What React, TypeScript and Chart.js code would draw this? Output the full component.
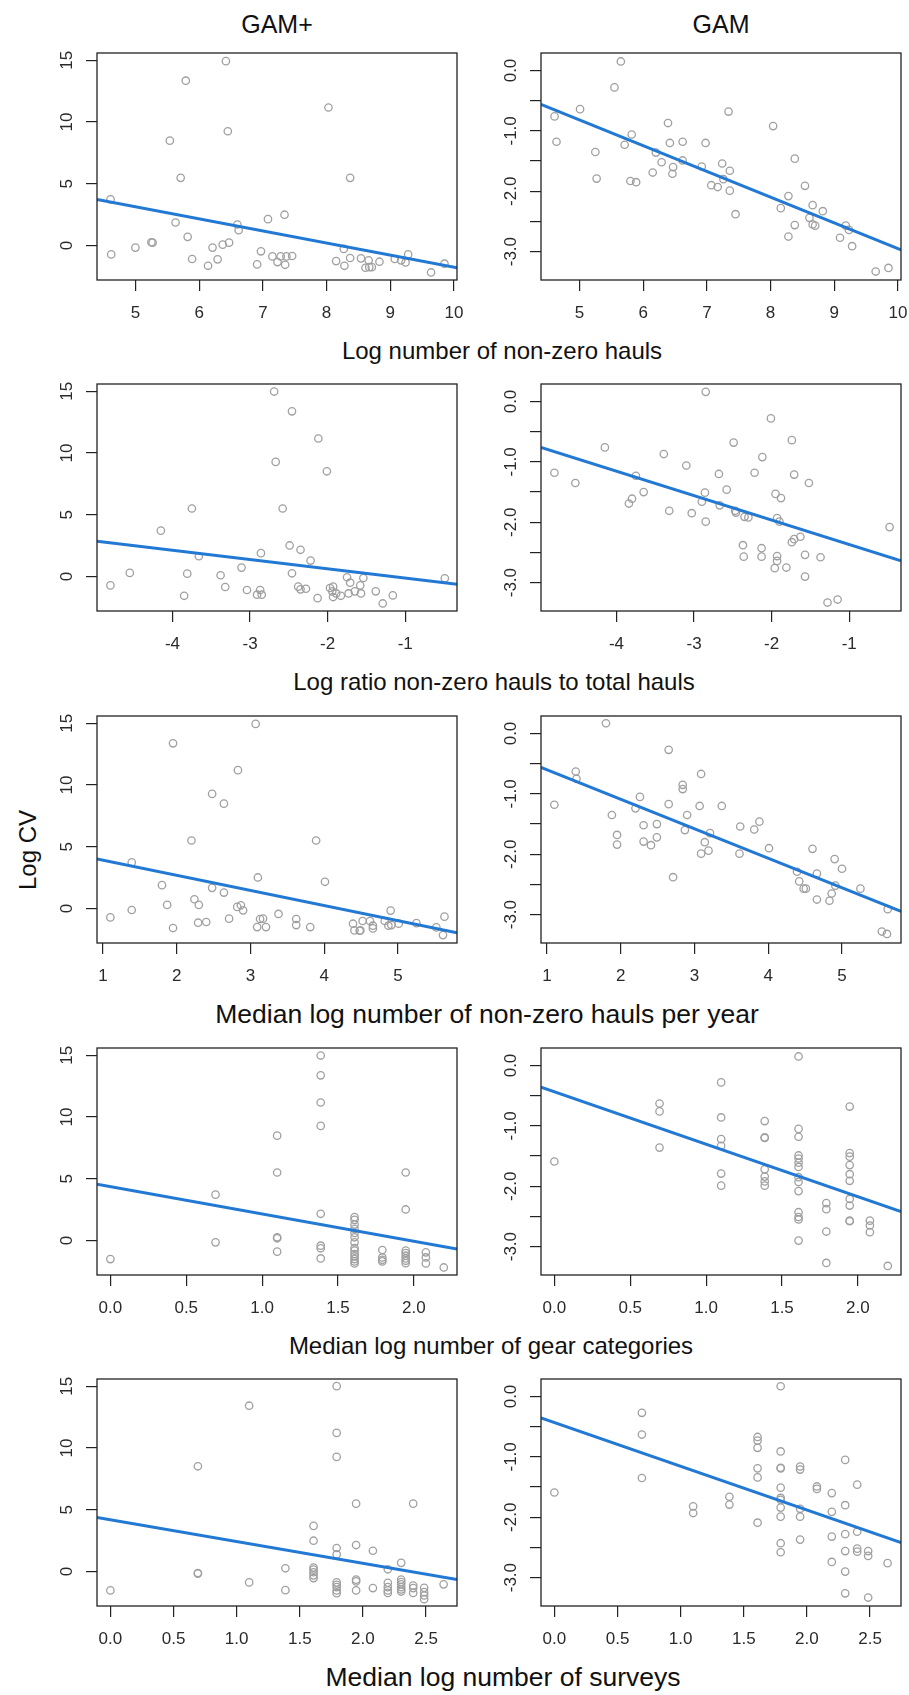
import React, { useEffect, useRef } from "react";
import { Chart, registerables } from "chart.js";

Chart.register(...registerables);

const FONT = '"Liberation Sans", Arimo, Arial, Helvetica, sans-serif';
const BLUE = "rgb(34,121,212)";
const GRAY = "#a0a0a0";

// ---------- Row 1: Log number of non-zero hauls ----------
const haulsPlusX = [4.61, 4.62, 5.0, 5.25, 5.27, 5.54, 5.63, 5.71, 5.79, 5.82, 5.89, 6.14, 6.21, 6.29, 6.37, 6.42, 6.45, 6.47, 6.6, 6.62, 6.91, 6.97, 7.08, 7.15, 7.23, 7.28, 7.34, 7.35, 7.37, 7.46, 8.03, 8.15, 8.27, 8.28, 8.37, 8.37, 8.54, 8.61, 8.66, 8.67, 8.71, 8.83, 9.07, 9.17, 9.24, 9.28, 9.64, 9.85];
const haulsPlusY = [3.74, -0.71, -0.16, 0.27, 0.24, 8.49, 1.87, 5.48, 13.34, 0.71, -1.08, -1.63, -0.16, -1.11, 0.08, 14.92, 9.25, 0.24, 1.71, 1.25, -1.52, -0.46, 2.14, -0.87, -1.33, -0.87, 2.5, -1.55, -0.87, -0.84, 11.17, -1.25, -0.27, -1.63, -1.0, 5.48, -1.03, -1.79, -1.19, -1.74, -1.74, -1.3, -1.08, -1.19, -1.36, -0.71, -2.17, -1.46];
const haulsGamX = [4.61, 4.64, 5.01, 5.25, 5.27, 5.55, 5.65, 5.71, 5.8, 5.82, 5.89, 6.15, 6.2, 6.29, 6.39, 6.42, 6.46, 6.47, 6.62, 6.62, 6.92, 6.98, 7.07, 7.17, 7.24, 7.26, 7.34, 7.36, 7.36, 7.45, 8.04, 8.16, 8.28, 8.28, 8.38, 8.38, 8.54, 8.61, 8.66, 8.66, 8.7, 8.82, 9.09, 9.18, 9.23, 9.28, 9.65, 9.85];
const haulsGamY = [-0.76, -1.18, -0.64, -1.35, -1.79, -0.28, 0.15, -1.23, -1.83, -1.06, -1.85, -1.69, -1.36, -1.52, -0.87, -1.2, -1.71, -1.6, -1.18, -1.49, -1.59, -1.2, -1.9, -1.93, -1.54, -1.8, -0.68, -1.66, -1.99, -2.38, -0.92, -2.28, -2.08, -2.75, -1.46, -2.56, -1.91, -2.44, -2.23, -2.55, -2.57, -2.33, -2.77, -2.57, -2.64, -2.91, -3.33, -3.27];
const haulsRange = [4.397, 10.047];
const haulsPlusFit = [3.74, -1.79];
const haulsGamFit = [-0.56, -2.97];
const haulsTicks = [5, 6, 7, 8, 9, 10];
const haulsLabels = ["5", "6", "7", "8", "9", "10"];

// ---------- Row 2: Log ratio non-zero hauls to total hauls ----------
const ratioPlusX = [-4.8, -4.55, -4.15, -3.85, -3.81, -3.75, -3.66, -3.38, -3.32, -3.11, -3.04, -2.91, -2.87, -2.85, -2.86, -2.69, -2.67, -2.58, -2.49, -2.46, -2.46, -2.38, -2.35, -2.35, -2.28, -2.22, -2.13, -2.12, -2.01, -1.97, -1.94, -1.93, -1.93, -1.89, -1.83, -1.75, -1.73, -1.71, -1.65, -1.58, -1.57, -1.54, -1.38, -1.29, -1.16, -0.49];
const ratioPlusY = [-0.71, 0.3, 3.72, -1.55, 0.24, 5.51, 1.65, 0.11, -0.84, 0.73, -1.08, -1.46, -1.08, -1.46, 1.9, 14.97, 9.28, 5.51, 2.52, 0.27, 13.37, -0.81, 2.17, -1.03, -0.98, 1.3, -1.74, 11.17, 8.52, -0.92, -1.19, -0.81, -1.65, -1.36, -1.55, -0.05, -1.36, -0.49, -1.19, -0.71, -1.36, -0.11, -1.19, -2.17, -1.52, -0.14];
const ratioGamX = [-4.8, -4.53, -4.15, -3.84, -3.8, -3.75, -3.65, -3.39, -3.32, -3.1, -3.03, -2.9, -2.86, -2.85, -2.85, -2.68, -2.67, -2.58, -2.49, -2.47, -2.46, -2.37, -2.36, -2.35, -2.3, -2.22, -2.13, -2.13, -2.12, -2.01, -1.95, -1.96, -1.93, -1.93, -1.93, -1.9, -1.88, -1.81, -1.74, -1.74, -1.71, -1.71, -1.63, -1.57, -1.57, -1.52, -1.37, -1.28, -1.15, -0.48];
const ratioGamY = [-1.18, -1.35, -0.76, -1.69, -1.61, -1.23, -1.5, -0.87, -1.81, -1.06, -1.85, -1.66, -1.51, 0.16, -1.99, -1.2, -1.72, -1.46, -0.68, -1.81, -1.84, -2.38, -2.57, -1.91, -1.92, -1.18, -2.43, -2.57, -0.92, -0.28, -1.53, -2.76, -2.56, -2.64, -1.93, -1.99, -1.6, -2.75, -0.64, -2.33, -2.28, -1.21, -2.24, -2.54, -2.9, -1.35, -2.58, -3.33, -3.28, -2.08];
const ratioRange = [-4.973, -0.333];
const ratioPlusFit = [2.87, -0.62];
const ratioGamFit = [-0.76, -2.64];
const ratioTicks = [-4, -3, -2, -1];
const ratioLabels = ["-4", "-3", "-2", "-1"];

// ---------- Row 3: Median log number of non-zero hauls per year ----------
const yearPlusX = [1.1, 1.39, 1.39, 1.8, 1.87, 1.95, 1.95, 2.2, 2.24, 2.3, 2.29, 2.4, 2.48, 2.48, 2.64, 2.64, 2.71, 2.83, 2.82, 2.87, 2.9, 3.07, 3.09, 3.1, 3.13, 3.17, 3.21, 3.38, 3.62, 3.62, 3.81, 3.89, 4.01, 4.39, 4.41, 4.48, 4.49, 4.52, 4.62, 4.66, 4.66, 4.82, 4.87, 4.9, 4.91, 5.01, 5.25, 5.52, 5.61, 5.63];
const yearPlusY = [-0.71, -0.11, 3.74, 1.9, 0.3, 13.37, -1.57, 5.51, 0.76, 0.3, -1.14, -1.08, 9.28, 1.68, 8.49, 1.3, -0.81, 11.2, 0.14, 0.27, -0.14, 14.94, -1.49, 2.52, -0.84, -0.81, -1.49, -0.43, -0.84, -1.33, -1.49, 5.51, 2.17, -1.22, -1.76, -1.79, -1.76, -1.0, -1.0, -1.38, -1.6, -1.0, -1.38, -0.16, -1.33, -1.22, -1.17, -1.52, -2.14, -0.65];
const yearGamX = [1.1, 1.39, 1.4, 1.8, 1.88, 1.95, 1.95, 2.2, 2.26, 2.31, 2.31, 2.41, 2.49, 2.49, 2.65, 2.65, 2.71, 2.84, 2.84, 2.87, 2.9, 3.07, 3.09, 3.09, 3.14, 3.19, 3.21, 3.37, 3.62, 3.61, 3.81, 3.88, 4.01, 4.39, 4.42, 4.48, 4.51, 4.6, 4.66, 4.66, 4.83, 4.86, 4.9, 4.91, 5.0, 5.25, 5.54, 5.61, 5.62];
const yearGamY = [-1.18, -0.63, -0.75, 0.17, -1.35, -1.68, -1.84, -1.24, -1.05, -1.52, -1.79, -1.85, -1.5, -1.72, -0.27, -1.17, -2.38, -0.85, -0.92, -1.6, -1.35, -1.2, -0.67, -1.99, -1.8, -1.94, -1.65, -1.2, -1.54, -1.99, -1.59, -1.46, -1.9, -2.29, -2.45, -2.57, -2.57, -1.91, -2.32, -2.75, -2.77, -2.65, -2.08, -2.52, -2.24, -2.57, -3.28, -3.32, -2.91];
const yearRange = [0.919, 5.8];
const yearPlusFit = [4.01, -1.95];
const yearGamFit = [-0.56, -2.945];
const yearTicks = [1, 2, 3, 4, 5];
const yearLabels = ["1", "2", "3", "4", "5"];

// ---------- Row 4: Median log number of gear categories ----------
const gearPlusX = [0.0,
  0.693, 0.693,
  1.099, 1.099, 1.099, 1.099, 1.099,
  1.386, 1.386, 1.386, 1.386, 1.386, 1.386, 1.386, 1.386,
  1.609, 1.609, 1.609, 1.609, 1.609, 1.609, 1.609, 1.609, 1.609, 1.609, 1.609, 1.609, 1.609, 1.609,
  1.792, 1.792, 1.792, 1.792,
  1.946, 1.946, 1.946, 1.946, 1.946, 1.946, 1.946, 1.946,
  2.079, 2.079, 2.079,
  2.197];
const gearPlusY = [-1.49,
  3.72, -0.14,
  8.49, 5.51, 0.27, 0.19, -0.89,
  14.97, 13.37, 11.17, 9.28, 2.17, -0.41, -0.62, -1.44,
  1.9, 1.68, 1.3, 0.95, 0.62, 0.27, -0.14, -0.6, -0.81, -1.08, -1.27, -1.49, -1.68, -1.84,
  -0.76, -1.36, -1.55, -1.68,
  5.51, 2.52, -0.81, -1.0, -1.22, -1.44, -1.63, -1.82,
  -0.95, -1.36, -1.84,
  -2.17];
const gearGamX = [0.0,
  0.693, 0.693, 0.693,
  1.099, 1.099, 1.099, 1.099, 1.099, 1.099,
  1.386, 1.386, 1.386, 1.386, 1.386, 1.386, 1.386,
  1.609, 1.609, 1.609, 1.609, 1.609, 1.609, 1.609, 1.609, 1.609, 1.609, 1.609, 1.609, 1.609, 1.609,
  1.792, 1.792, 1.792, 1.792,
  1.946, 1.946, 1.946, 1.946, 1.946, 1.946, 1.946, 1.946, 1.946, 1.946,
  2.079, 2.079, 2.079,
  2.197];
const gearGamY = [-1.59,
  -0.63, -0.76, -1.36,
  -0.28, -0.86, -1.22, -1.33, -1.79, -1.99,
  -0.92, -1.19, -1.2, -1.72, -1.84, -1.92, -1.99,
  0.15, -1.05, -1.18, -1.49, -1.54, -1.61, -1.68, -1.85, -1.93, -2.08, -2.43, -2.51, -2.55, -2.9,
  -2.28, -2.38, -2.75, -3.27,
  -0.68, -1.45, -1.51, -1.65, -1.8, -1.91, -2.21, -2.32, -2.57, -2.58,
  -2.57, -2.65, -2.76,
  -3.32];
const gearRange = [-0.088, 2.284];
const gearPlusFit = [4.56, -0.68];
const gearGamFit = [-0.36, -2.42];
const gearTicks = [0, 0.5, 1, 1.5, 2];
const gearLabels = ["0.0", "0.5", "1.0", "1.5", "2.0"];

// ---------- Row 5: Median log number of surveys ----------
const survPlusX = [0.0,
  0.693, 0.693, 0.693,
  1.099, 1.099,
  1.386, 1.386,
  1.609, 1.609, 1.609, 1.609, 1.609, 1.609, 1.609,
  1.792, 1.792, 1.792, 1.792, 1.792, 1.792, 1.792, 1.792, 1.792, 1.792,
  1.946, 1.946, 1.946, 1.946, 1.946,
  2.079, 2.079,
  2.197, 2.197, 2.197, 2.197, 2.197,
  2.303, 2.303, 2.303, 2.303, 2.303, 2.303, 2.303,
  2.398, 2.398, 2.398, 2.398,
  2.485, 2.485, 2.485, 2.485,
  2.639];
const survPlusY = [-1.52,
  8.52, -0.11, -0.16,
  13.42, -0.87,
  0.27, -1.5,
  3.7, 2.5, 0.33, 0.16, -0.05, -0.3, -0.52,
  15.0, 11.22, 9.28, 1.91, 1.39, -0.87, -1.06, -1.25, -1.52, -1.74,
  5.5, 2.15, -0.65, -0.79, -1.52,
  1.69, -1.33,
  0.19, -0.9, -1.25, -1.52, -1.72,
  0.71, -0.65, -0.84, -1.03, -1.25, -1.44, -1.61,
  5.5, -1.12, -1.33, -1.72,
  -1.31, -1.66, -1.93, -2.23,
  -1.03];
const survGamX = [0.0,
  0.693, 0.693, 0.693,
  1.099, 1.099,
  1.386, 1.386,
  1.609, 1.609, 1.609, 1.609, 1.609, 1.609,
  1.792, 1.792, 1.792, 1.792, 1.792, 1.792, 1.792, 1.792, 1.792, 1.792, 1.792,
  1.946, 1.946, 1.946, 1.946, 1.946,
  2.079, 2.079,
  2.197, 2.197, 2.197, 2.197,
  2.303, 2.303, 2.303, 2.303, 2.303, 2.303,
  2.398, 2.398, 2.398, 2.398,
  2.485, 2.485, 2.485,
  2.639];
const survGamY = [-1.59,
  -0.27, -0.63, -1.35,
  -1.82, -1.93,
  -1.66, -1.79,
  -0.67, -0.73, -0.85, -1.19, -1.34, -2.09,
  0.17, -0.91, -1.18, -1.19, -1.51, -1.68, -1.71, -1.84, -1.99, -2.43, -2.58,
  -1.16, -1.21, -1.86, -1.99, -2.37,
  -1.49, -1.53,
  -1.6, -1.91, -2.32, -2.74,
  -1.05, -1.8, -2.28, -2.56, -2.9, -3.26,
  -1.46, -2.24, -2.52, -2.57,
  -2.56, -2.64, -3.33,
  -2.76];
const survRange = [-0.106, 2.745];
const survPlusFit = [4.38, -0.63];
const survGamFit = [-0.355, -2.42];
const survTicks = [0, 0.5, 1, 1.5, 2, 2.5];
const survLabels = ["0.0", "0.5", "1.0", "1.5", "2.0", "2.5"];

// ---------- Y axes ----------
const plusYRange = [-2.78, 15.58];
const plusYTicks = [0, 5, 10, 15];
const plusYLabels = ["0", "5", "10", "15"];
const gamYRange = [-3.47, 0.29];
const gamYTicks = [0, -0.5, -1, -1.5, -2, -2.5, -3];
const gamYLabels = ["0.0", "", "-1.0", "", "-2.0", "", "-3.0"];

const rowTitles = [
  "Log number of non-zero hauls",
  "Log ratio non-zero hauls to total hauls",
  "Median log number of non-zero hauls per year",
  "Median log number of gear categories",
  "Median log number of surveys",
];
const colTitles = ["GAM+", "GAM"];

// ---------- layout ----------
const BOX_W = 360;
const BOX_H = 227;
const PAD_L = 60;
const PAD_T = 10;
const PAD_R = 22;
const PAD_B = 50;
const CW = PAD_L + BOX_W + PAD_R;
const CH = PAD_T + BOX_H + PAD_B;
const COL_LEFT = [97, 541];
const ROW_TOP = [53, 384, 716, 1048, 1379];
const ROW_TITLE_CX = [502, 494, 487, 491, 503];
const ROW_TITLE_SIZE = [24, 24, 26.5, 24, 26.5];

type Spec = {
  xs: number[];
  ys: number[];
  xRange: number[];
  fitY: number[];
  xTicks: number[];
  xLabels: string[];
  yRange: number[];
  yTicks: number[];
  yLabels: string[];
  left: number;
  top: number;
};

const rows = [
  { plus: [haulsPlusX, haulsPlusY, haulsPlusFit], gam: [haulsGamX, haulsGamY, haulsGamFit], range: haulsRange, ticks: haulsTicks, labels: haulsLabels },
  { plus: [ratioPlusX, ratioPlusY, ratioPlusFit], gam: [ratioGamX, ratioGamY, ratioGamFit], range: ratioRange, ticks: ratioTicks, labels: ratioLabels },
  { plus: [yearPlusX, yearPlusY, yearPlusFit], gam: [yearGamX, yearGamY, yearGamFit], range: yearRange, ticks: yearTicks, labels: yearLabels },
  { plus: [gearPlusX, gearPlusY, gearPlusFit], gam: [gearGamX, gearGamY, gearGamFit], range: gearRange, ticks: gearTicks, labels: gearLabels },
  { plus: [survPlusX, survPlusY, survPlusFit], gam: [survGamX, survGamY, survGamFit], range: survRange, ticks: survTicks, labels: survLabels },
];

const specs: Spec[] = [];
rows.forEach((r, ri) => {
  [r.plus, r.gam].forEach((d, ci) => {
    specs.push({
      xs: d[0],
      ys: d[1],
      fitY: d[2],
      xRange: r.range,
      xTicks: r.ticks,
      xLabels: r.labels,
      yRange: ci === 0 ? plusYRange : gamYRange,
      yTicks: ci === 0 ? plusYTicks : gamYTicks,
      yLabels: ci === 0 ? plusYLabels : gamYLabels,
      left: COL_LEFT[ci],
      top: ROW_TOP[ri],
    });
  });
});

function Panel({ spec }: { spec: Spec }) {
  const ref = useRef<HTMLCanvasElement | null>(null);
  useEffect(() => {
    const s = spec;
    const rAxes = {
      id: "rAxes",
      afterDraw(chart: any) {
        const { ctx, chartArea: a } = chart;
        const xs = chart.scales.x;
        const ys = chart.scales.y;
        ctx.save();
        ctx.strokeStyle = "#222";
        ctx.lineWidth = 1.3;
        ctx.strokeRect(a.left, a.top, a.right - a.left, a.bottom - a.top);
        ctx.fillStyle = "#2a2a2a";
        ctx.font = `17px ${FONT}`;
        ctx.textAlign = "center";
        ctx.textBaseline = "middle";
        s.xTicks.forEach((v, i) => {
          const t = s.xLabels[i];
          if (t) ctx.fillText(t, xs.getPixelForValue(v), a.bottom + 33);
        });
        s.yTicks.forEach((v, i) => {
          const t = s.yLabels[i];
          if (!t) return;
          ctx.save();
          ctx.translate(a.left - 30, ys.getPixelForValue(v));
          ctx.rotate(-Math.PI / 2);
          ctx.fillText(t, 0, 0);
          ctx.restore();
        });
        ctx.restore();
      },
    };
    const gridOpts = {
      display: true,
      drawOnChartArea: false,
      drawTicks: true,
      tickLength: 11,
      color: "#222",
      lineWidth: 1.2,
    };
    const chart = new Chart(ref.current as HTMLCanvasElement, {
      type: "scatter",
      data: {
        datasets: [
          {
            type: "line",
            data: s.xRange.map((x, i) => ({ x, y: s.fitY[i] })),
            borderColor: BLUE,
            borderWidth: 3,
            pointRadius: 0,
            fill: false,
            tension: 0,
          } as any,
          {
            type: "scatter",
            data: s.xs.map((x, i) => ({ x, y: s.ys[i] })),
            pointStyle: "circle",
            pointRadius: 3.7,
            pointBorderWidth: 1.3,
            borderColor: GRAY,
            pointBorderColor: GRAY,
            backgroundColor: "rgba(0,0,0,0)",
            pointBackgroundColor: "rgba(0,0,0,0)",
          } as any,
        ],
      },
      options: {
        responsive: false,
        animation: false,
        devicePixelRatio: 1,
        events: [],
        layout: { padding: { left: 0, top: PAD_T, right: PAD_R, bottom: 0 } },
        plugins: {
          legend: { display: false },
          tooltip: { enabled: false },
          title: { display: false },
        },
        scales: {
          x: {
            type: "linear",
            position: "bottom",
            min: s.xRange[0],
            max: s.xRange[1],
            ticks: { display: false },
            grid: gridOpts,
            border: { display: false },
            afterBuildTicks: (sc: any) => {
              sc.ticks = s.xTicks.map((v) => ({ value: v }));
            },
            afterFit: (sc: any) => {
              sc.height = PAD_B;
            },
          },
          y: {
            type: "linear",
            position: "left",
            min: s.yRange[0],
            max: s.yRange[1],
            ticks: { display: false },
            grid: gridOpts,
            border: { display: false },
            afterBuildTicks: (sc: any) => {
              sc.ticks = s.yTicks.map((v) => ({ value: v }));
            },
            afterFit: (sc: any) => {
              sc.width = PAD_L;
            },
          },
        },
      } as any,
      plugins: [rAxes],
    });
    return () => chart.destroy();
  }, [spec]);
  return (
    <canvas
      ref={ref}
      width={CW}
      height={CH}
      style={{ position: "absolute", left: spec.left - PAD_L, top: spec.top - PAD_T, width: CW, height: CH }}
    />
  );
}

export default function App() {
  return (
    <div style={{ position: "absolute", left: 0, top: 0, width: 909, height: 1695, background: "#fff", fontFamily: FONT, color: "#111" }}>
      {colTitles.map((t, i) => (
        <div
          key={t}
          style={{
            position: "absolute",
            left: COL_LEFT[i] + BOX_W / 2 - 150,
            top: 24 - 16,
            width: 300,
            height: 32,
            lineHeight: "32px",
            fontSize: 25,
            textAlign: "center",
          }}
        >
          {t}
        </div>
      ))}
      {rowTitles.map((t, i) => (
        <div
          key={t}
          style={{
            position: "absolute",
            left: ROW_TITLE_CX[i] - 350,
            top: ROW_TOP[i] + BOX_H + 71 - 16,
            width: 700,
            height: 32,
            lineHeight: "32px",
            fontSize: ROW_TITLE_SIZE[i],
            textAlign: "center",
          }}
        >
          {t}
        </div>
      ))}
      <div
        style={{
          position: "absolute",
          left: 28 - 60,
          top: 850 - 16,
          width: 120,
          height: 32,
          lineHeight: "32px",
          fontSize: 24,
          textAlign: "center",
          transform: "rotate(-90deg)",
        }}
      >
        Log CV
      </div>
      {specs.map((s, i) => (
        <Panel key={i} spec={s} />
      ))}
    </div>
  );
}
